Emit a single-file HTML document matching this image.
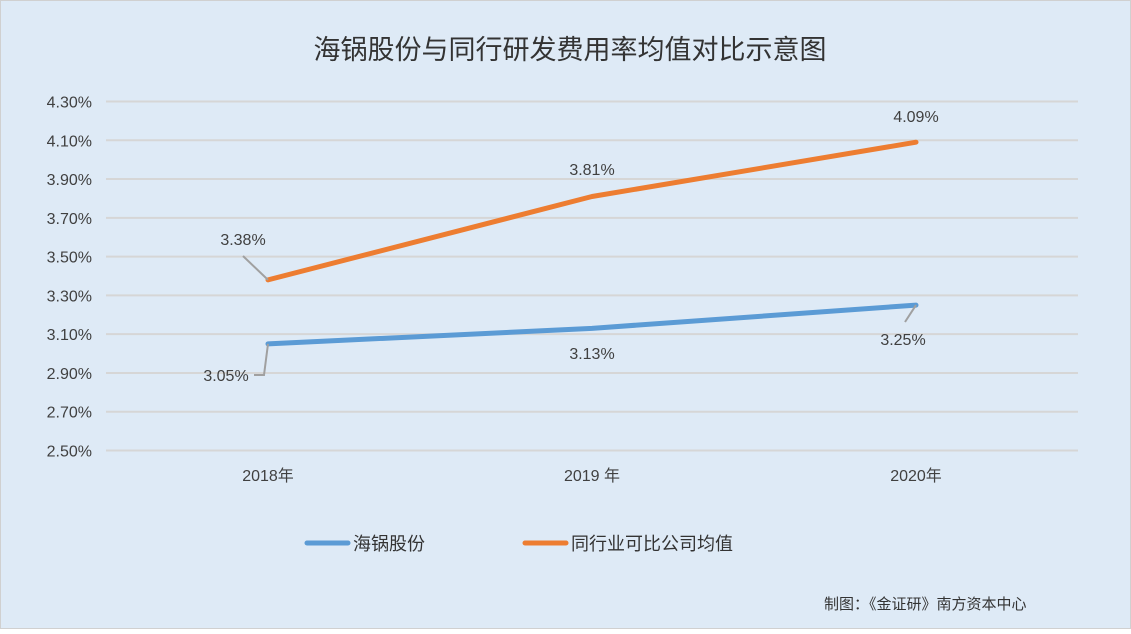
<!DOCTYPE html>
<html><head><meta charset="utf-8"><style>
body{margin:0;background:#fff}
svg text{font-family:"Liberation Sans","Noto Sans CJK SC",sans-serif}
</style></head><body>
<svg width="1131" height="629" viewBox="0 0 1131 629" xmlns="http://www.w3.org/2000/svg">
<rect x="0.5" y="0.5" width="1130" height="628" fill="#deeaf6" stroke="#d0d0d0"/>
<text x="570" y="59" font-size="27" text-anchor="middle" fill="#333">海锅股份与同行研发费用率均值对比示意图</text>
<g id="grid"></g><g id="ylabels"></g><g id="xlabels"></g><g id="series"></g><g id="datalabels"></g>
<g>
<line x1="307" y1="543" x2="348" y2="543" stroke="#5b9bd5" stroke-width="5" stroke-linecap="round"/>
<text x="353" y="550" font-size="18" fill="#333">海锅股份</text>
<line x1="525" y1="543" x2="566" y2="543" stroke="#ed7d31" stroke-width="5" stroke-linecap="round"/>
<text x="571" y="550" font-size="18" fill="#333">同行业可比公司均值</text>
</g>
<text x="824" y="609" font-size="15" fill="#333">制图：《金证研》南方资本中心</text>
</svg>
<script>
const categories=["2018年","2019 年","2020年"];
const hbgValues=[3.05,3.13,3.25];
const peerValues=[3.38,3.81,4.09];
const yTicks=[2.5,2.7,2.9,3.1,3.3,3.5,3.7,3.9,4.1,4.3];
const yTickLabels=["2.50%","2.70%","2.90%","3.10%","3.30%","3.50%","3.70%","3.90%","4.10%","4.30%"];
const NS="http://www.w3.org/2000/svg";
const L=106,R=1078,T=101.5,B=450.5,yMin=2.5,yMax=4.3;
const y=v=>B-(v-yMin)/(yMax-yMin)*(B-T);
const x=i=>L+(R-L)/categories.length*(i+0.5);
function mk(tag,attrs,parent,txt){const e=document.createElementNS(NS,tag);for(const k in attrs)e.setAttribute(k,attrs[k]);if(txt!==undefined)e.textContent=txt;document.getElementById(parent).appendChild(e);return e;}
yTicks.forEach((v,i)=>{
 const g=mk('line',{x1:L,x2:R,y1:y(v),y2:y(v),stroke:'#d6d6d6','stroke-width':2},'grid');
 
 
 const t=mk('text',{x:92,y:y(v)+6,'font-size':16,'text-anchor':'end',fill:'#404040'},'ylabels',yTickLabels[i]);
 
 
});
categories.forEach((c,i)=>{
 const t=mk('text',{x:x(i),y:481,'font-size':16,'text-anchor':'middle',fill:'#404040'},'xlabels',c);
 
 
});
function series(vals,color,name){
 const p=mk('polyline',{points:vals.map((v,i)=>x(i)+','+y(v)).join(' '),fill:'none',stroke:color,'stroke-width':5,'stroke-linecap':'round','stroke-linejoin':'round'},'series');
 
 
}
series(hbgValues,'#5b9bd5','line-hbg');
series(peerValues,'#ed7d31','line-peer');
function dl(txt,tx,ty,lead){
 if(lead){const l=mk('polyline',{points:lead,fill:'none',stroke:'#a0a0a0','stroke-width':2},'datalabels');
 
 }
 const t=mk('text',{x:tx,y:ty,'font-size':16,'text-anchor':'middle',fill:'#404040'},'datalabels',txt);
 
 
}
const f=v=>v.toFixed(2)+'%';
dl(f(peerValues[0]),243,245,`243,256 ${x(0)},${y(peerValues[0])}`);
dl(f(peerValues[1]),x(1),175);
dl(f(peerValues[2]),x(2),122);
dl(f(hbgValues[0]),226,381,`254,375 264,375 ${x(0)},${y(hbgValues[0])}`);
dl(f(hbgValues[1]),x(1),359);
dl(f(hbgValues[2]),903,345,`905,322 ${x(2)},${y(hbgValues[2])}`);
</script>
</body></html>
